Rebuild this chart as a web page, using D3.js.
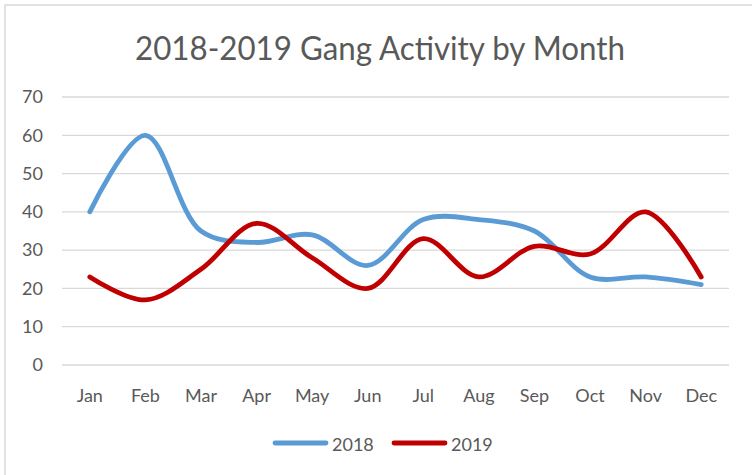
<!DOCTYPE html>
<html>
<head>
<meta charset="utf-8">
<script src="https://cdn.jsdelivr.net/npm/d3@7"></script>
<style>
  html, body { margin: 0; padding: 0; background: #fff; }
  svg { display: block; }
  text { font-family: Lato, "Open Sans", "DejaVu Sans", sans-serif; fill: #595959; }
</style>
</head>
<body>
<svg id="chart" width="752" height="475"></svg>
<script>
// Monthly gang activity counts, 2018 vs 2019
const months = ["Jan", "Feb", "Mar", "Apr", "May", "Jun", "Jul", "Aug", "Sep", "Oct", "Nov", "Dec"];
const values2018 = [40, 60, 35, 32, 34, 26, 38, 38, 35, 23, 23, 21];
const values2019 = [23, 17, 25, 37, 28, 20, 33, 23, 31, 29, 40, 23];
const yTicks = [0, 10, 20, 30, 40, 50, 60, 70];
const seriesNames = ["2018", "2019"];
const seriesColors = ["#5B9BD5", "#C00000"];

const svg = d3.select("#chart");
const W = 752, H = 475;
const plot = { left: 62, right: 729, top: 97, bottom: 365 };

// outer chart frame (only top and left edges fall inside the view)
svg.append("rect")
  .attr("x", 5).attr("y", 5)
  .attr("width", W + 10).attr("height", H + 10)
  .attr("fill", "#fff")
  .attr("stroke", "#d9d9d9").attr("stroke-width", 1.5);

const x = d3.scaleBand().domain(months).range([plot.left, plot.right]);
const y = d3.scaleLinear().domain([0, 70]).range([plot.bottom, plot.top]);

// horizontal gridlines
svg.append("g").selectAll("line").data(yTicks).join("line")
  .attr("x1", plot.left).attr("x2", plot.right)
  .attr("y1", d => y(d)).attr("y2", d => y(d))
  .attr("stroke", "#d9d9d9").attr("stroke-width", 1.3);

// y-axis labels
const yAxis = svg.append("g")
  .attr("transform", `translate(${plot.left - 19},0)`)
  .call(d3.axisLeft(y).tickValues(yTicks).tickSize(0).tickPadding(0));
yAxis.select(".domain").remove();
yAxis.selectAll("text")
  .attr("font-family", "Lato, 'Open Sans', sans-serif")
  .attr("font-size", 18).attr("fill", "#595959");

// x-axis labels
const xAxis = svg.append("g")
  .attr("transform", `translate(0,${plot.bottom + 24})`)
  .call(d3.axisBottom(x).tickSize(0).tickPadding(0));
xAxis.select(".domain").remove();
xAxis.selectAll("text")
  .attr("font-family", "Lato, 'Open Sans', sans-serif")
  .attr("font-size", 18).attr("fill", "#595959");

// smoothed series lines
const line = d3.line()
  .x((d, i) => x(months[i]) + x.bandwidth() / 2)
  .y(d => y(d))
  .curve(d3.curveCatmullRom.alpha(0.5));

[values2018, values2019].forEach((vals, k) => {
  svg.append("path")
    .datum(vals)
    .attr("d", line)
    .attr("fill", "none")
    .attr("stroke", seriesColors[k])
    .attr("stroke-width", 4.8)
    .attr("stroke-linecap", "round")
    .attr("stroke-linejoin", "round");
});

// title
const title = svg.append("text")
  .attr("x", 380).attr("y", 60)
  .attr("text-anchor", "middle")
  .attr("font-size", 32)
  .text("2018-2019 Gang Activity by Month");
const tw = title.node().getComputedTextLength();
if (tw > 490) title.attr("textLength", 490).attr("lengthAdjust", "spacingAndGlyphs");

// legend
const legendItems = [
  { name: seriesNames[0], color: seriesColors[0], x0: 275 },
  { name: seriesNames[1], color: seriesColors[1], x0: 394 }
];
const lg = svg.append("g");
legendItems.forEach(it => {
  lg.append("line")
    .attr("x1", it.x0).attr("x2", it.x0 + 51)
    .attr("y1", 443).attr("y2", 443)
    .attr("stroke", it.color).attr("stroke-width", 4.8)
    .attr("stroke-linecap", "round");
  lg.append("text")
    .attr("x", it.x0 + 57).attr("y", 451)
    .attr("font-size", 18)
    .text(it.name);
});
</script>
</body>
</html>
